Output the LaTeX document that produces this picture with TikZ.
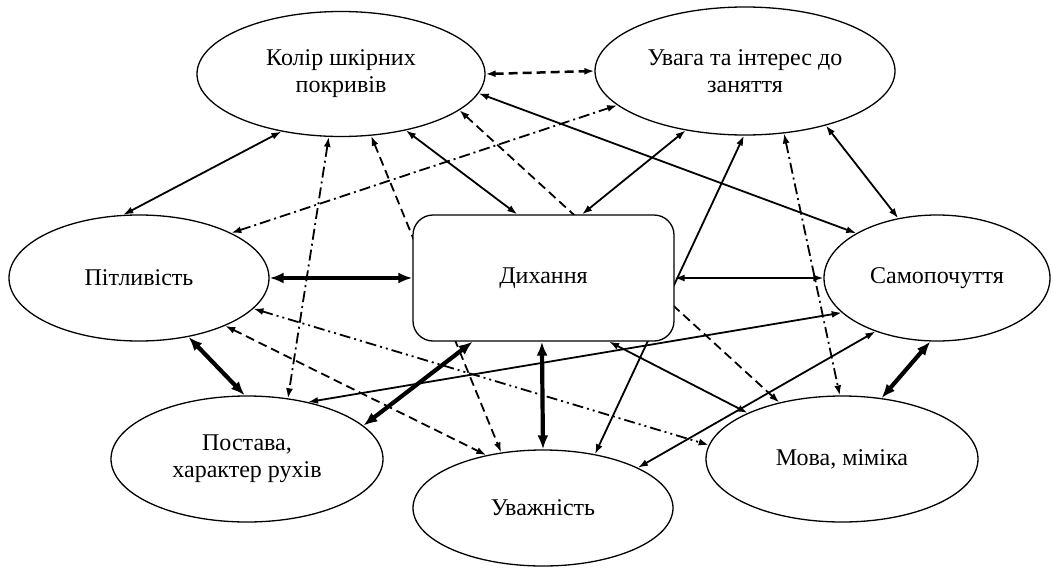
\documentclass[tikz,border=0pt]{standalone}
\usepackage{fontspec}
\setmainfont{Liberation Serif}
\usetikzlibrary{shapes.geometric,arrows.meta,calc}
\pgfdeclarelayer{back}
\pgfdeclarelayer{bg}
\pgfsetlayers{back,bg,main}
\tikzset{
  tipA/.tip={Latex[length=10pt,width=7pt]},
  tipB/.tip={Latex[length=14pt,width=11pt]},
  conn/.style={line width=1.8pt,arrows={tipA-tipA}},
  heavy/.style={line width=4.2pt,arrows={tipB-tipB}},
  dsh/.style={dash pattern=on 9pt off 5pt},
  dd/.style={dash pattern=on 11pt off 4pt on 2pt off 4pt},
  ddd/.style={dash pattern=on 11pt off 4pt on 2pt off 4pt on 2pt off 4pt},
  oval/.style={ellipse,draw,line width=1.3pt,fill=white,inner sep=0pt,align=center,font=\fontsize{24}{27}\selectfont},
  roundbox/.style={rectangle,rounded corners=20pt,draw,line width=1.3pt,fill=white,align=center,font=\fontsize{24}{27}\selectfont}
}
\begin{document}
\begin{tikzpicture}[x=1pt,y=-1pt]
\begin{pgfonlayer}{back}
\fill[white] (0,0) rectangle (1053,573);
\end{pgfonlayer}
\useasboundingbox (0,0) rectangle (1053,573);
\node[oval,minimum width=288pt,minimum height=125pt] (K) at (341,74) {Колір шкірних\\покривів};
\node[oval,minimum width=300pt,minimum height=128pt] (U) at (745,71) {Увага та інтерес до\\заняття};
\node[oval,minimum width=260pt,minimum height=126pt] (P) at (139,278) {Пітливість};
\node[roundbox,minimum width=261pt,minimum height=126pt] (D) at (543.5,278) {Дихання};
\node[oval,minimum width=226pt,minimum height=126pt] (S) at (937,278) {Самопочуття};
\node[oval,minimum width=272pt,minimum height=126pt] (Pos) at (247,459) {Постава,\\характер рухів};
\node[oval,minimum width=260pt,minimum height=116pt] (Uv) at (543,508) {Уважність};
\node[oval,minimum width=272pt,minimum height=126pt] (M) at (842,459) {Мова, міміка};
\begin{pgfonlayer}{bg}
\draw[conn] (K.224) -- (P.104);
\draw[conn,dd] (P.26) -- (U.195);
\draw[conn,dd] (K.259) -- (Pos.56);
\draw[conn,dsh] (K.296) -- (Uv.127);
\draw[conn] (K.319) -- ($(D.north west)!0.40!(D.north east)$);
\draw[conn,dsh] (K.343) -- (M.138);
\draw[conn,dsh,line width=2.5pt] (K.east) -- (U.west);
\draw[conn] (K.352) -- (S.151);
\draw[conn] (U.225) -- ($(D.north west)!0.647!(D.north east)$);
\draw[conn] (U.269) -- (Uv.46);
\draw[conn,dd] (U.302) -- (M.92);
\draw[conn] (U.326) -- (S.123);
\draw[heavy] (P.east) -- (D.west);
\draw[conn,line width=1.5pt] (D.east) -- (S.west);
\draw[conn,ddd] (P.345) -- (M.174);
\draw[conn,dsh] (P.331) -- (Uv.137);
\draw[heavy] (P.310) -- (Pos.92);
\draw[conn] (Pos.43) -- (S.200);
\draw[heavy] (Pos.16) -- ($(D.south west)!0.23!(D.south east)$);
\draw[conn] ($(D.south west)!0.75!(D.south east)$) -- (M.154);
\draw[conn] (S.221) -- (Uv.23);
\draw[heavy] (S.264) -- (M.57);
\draw[heavy] ($(D.south west)!0.494!(D.south east)$) -- (Uv.north);
\end{pgfonlayer}
\end{tikzpicture}
\end{document}
